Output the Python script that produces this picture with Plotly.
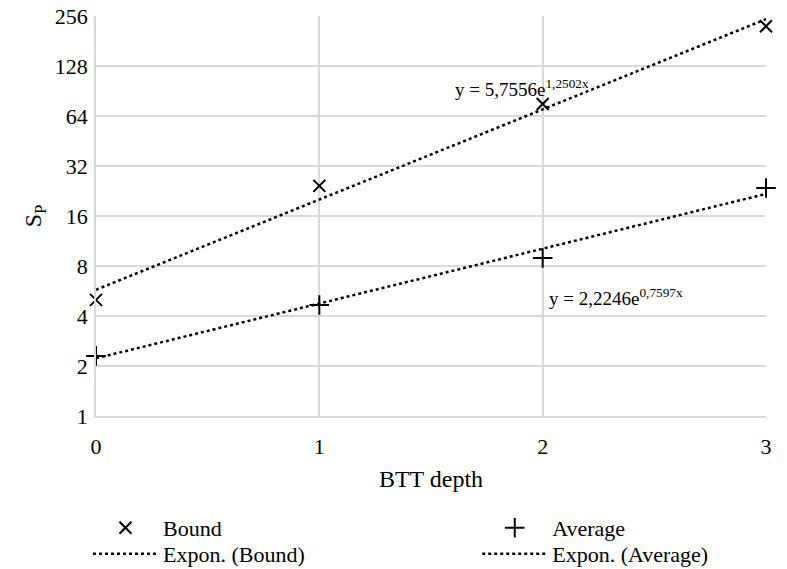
import numpy as np
import plotly.graph_objects as go

depth = [0, 1, 2, 3]
bound = [5.0, 24.3, 75.6, 222.0]
average = [2.3, 4.66, 8.94, 23.6]
bound_fit = (5.7556, 1.2502)
average_fit = (2.2246, 0.7597)
y_ticks = [1, 2, 4, 8, 16, 32, 64, 128, 256]

font = "Liberation Serif"
xs = np.linspace(0, 3, 31)

fig = go.Figure()
fig.add_trace(go.Scatter(x=depth, y=bound, mode="markers", name="Bound", legend="legend",
                         cliponaxis=False,
                         marker=dict(symbol="x-thin", size=12, color="black",
                                     line=dict(width=2, color="black"))))
fig.add_trace(go.Scatter(x=depth, y=average, mode="markers", name="Average", legend="legend2",
                         cliponaxis=False,
                         marker=dict(symbol="cross-thin", size=14, color="black",
                                     line=dict(width=2, color="black"))))
fig.add_trace(go.Scatter(x=xs, y=bound_fit[0] * np.exp(bound_fit[1] * xs), mode="lines",
                         name="Expon. (Bound)", legend="legend3", cliponaxis=False,
                         line=dict(color="black", width=2.5, dash="dot")))
fig.add_trace(go.Scatter(x=xs, y=average_fit[0] * np.exp(average_fit[1] * xs), mode="lines",
                         name="Expon. (Average)", legend="legend4", cliponaxis=False,
                         line=dict(color="black", width=2.5, dash="dot")))

fig.add_annotation(x=1.6, y=np.log10(94), xref="x", yref="y",
                   text="y = 5,7556e<sup>1,2502x</sup>", showarrow=False,
                   xanchor="left", yanchor="middle", font=dict(family=font, size=19, color="black"))
fig.add_annotation(x=2.02, y=np.log10(5.2), xref="x", yref="y",
                   text="y = 2,2246e<sup>0,7597x</sup>", showarrow=False,
                   xanchor="left", yanchor="middle", font=dict(family=font, size=19, color="black"))

leg_common = dict(orientation="v", xanchor="left", yanchor="middle", itemwidth=65,
                  font=dict(family=font, size=22, color="black"), bgcolor="rgba(0,0,0,0)")
row1, row2 = -0.28, -0.345
colL, colR = -0.012, 0.569

fig.update_layout(
    width=787, height=569,
    margin=dict(l=96, r=21, t=16, b=153, autoexpand=False),
    paper_bgcolor="white", plot_bgcolor="white",
    font=dict(family=font, size=22, color="black"),
    showlegend=True,
    legend=dict(x=colL, y=row1, **leg_common),
    legend2=dict(x=colR, y=row1, **leg_common),
    legend3=dict(x=colL, y=row2, **leg_common),
    legend4=dict(x=colR, y=row2, **leg_common),
    xaxis=dict(range=[0, 3], tickvals=depth, showgrid=True, gridcolor="#d9d9d9", gridwidth=1.5,
               zeroline=False, showline=True, linecolor="#d9d9d9", linewidth=1.5,
               ticks="", ticklabelstandoff=10, ticklabeloverflow="allow",
               title=dict(text="BTT depth", font=dict(family=font, size=24), standoff=12)),
    yaxis=dict(type="log", range=[0, np.log10(256)], tickvals=y_ticks,
               ticktext=[str(v) for v in y_ticks], showgrid=True, gridcolor="#d9d9d9", gridwidth=1.5,
               zeroline=False, showline=True, linecolor="#d9d9d9", linewidth=1.5, ticks="",
               ticklabelstandoff=2, ticklabeloverflow="allow",
               title=dict(text="S<sub>P</sub>", font=dict(family=font, size=24), standoff=6)),
)

fig.write_html("out.html", post_script="document.body.style.margin='0';",
               config={"displayModeBar": False})
